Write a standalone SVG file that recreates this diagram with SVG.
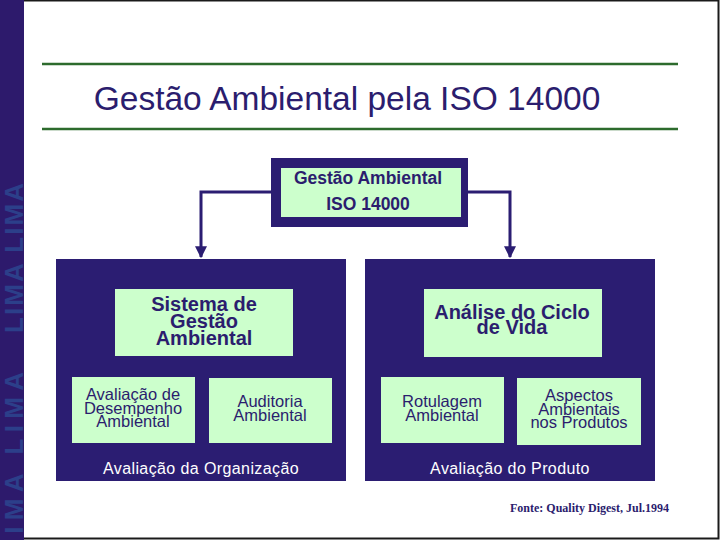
<svg xmlns="http://www.w3.org/2000/svg" width="720" height="540" viewBox="0 0 720 540">
<defs>
<style>
.navy{fill:#2b1d72}
.green{fill:#ccffcc}
.t{font-family:"Liberation Sans",Arial,sans-serif;fill:#2b1d6e;text-anchor:middle}
.b{font-weight:bold}
.cap{font-family:"Liberation Sans",Arial,sans-serif;fill:#ffffff;text-anchor:middle;font-size:16px;letter-spacing:0.4px}
.side{font-family:"Liberation Sans",Arial,sans-serif;fill:#2c3f8a;font-size:26px;font-weight:bold}
.conn{fill:none;stroke:#2b1d72;stroke-width:3}
.s16{font-size:16.5px}
.s20{font-size:20px}
</style>
<marker id="arr" viewBox="0 0 10 10" refX="9" refY="5" markerWidth="4" markerHeight="4" orient="auto" markerUnits="strokeWidth">
<path d="M0,0 L10,5 L0,10 z" fill="#2b1d72"/>
</marker>
</defs>
<rect x="0" y="0" width="720" height="540" fill="#ffffff"/>
<rect x="0.5" y="0.5" width="718" height="538" fill="none" stroke="#1a1a1a" stroke-width="2"/>
<g id="sidebar">
<rect x="0" y="0" width="24" height="540" fill="#2d1a6c"/>
<text class="side" transform="translate(23,333) rotate(-90)" textLength="150" lengthAdjust="spacing">LIMA LIMA</text>
<text class="side" transform="translate(23,556) rotate(-90)" textLength="184" lengthAdjust="spacing">LIMA LIMA</text>
</g>
<g id="title">
<line x1="42" y1="64" x2="678" y2="64" stroke="#2d6b2d" stroke-width="2.5"/>
<line x1="42" y1="129" x2="678" y2="129" stroke="#2d6b2d" stroke-width="2.5"/>
<text class="t" x="347" y="110" style="font-size:33.5px">Gestão Ambiental pela ISO 14000</text>
</g>
<g id="connectors">
<path class="conn" d="M272,192 H201 V257" marker-end="url(#arr)"/>
<path class="conn" d="M467,192 H510 V257" marker-end="url(#arr)"/>
</g>
<g id="root">
<rect class="navy" x="271" y="158" width="197" height="69"/>
<rect class="green" x="281" y="168" width="180" height="49"/>
<text class="t b" x="368" y="184" style="font-size:17.5px">Gestão Ambiental</text>
<text class="t b" x="368" y="210" style="font-size:17.5px">ISO 14000</text>
</g>
<g id="org">
<rect class="navy" x="56" y="259" width="290" height="222"/>
<text class="cap" x="201" y="474">Avaliação da Organização</text>
</g>
<g id="sga">
<rect class="green" x="115" y="289" width="178" height="67"/>
<text class="t b s20" x="204" y="311">Sistema de</text>
<text class="t b s20" x="204" y="328">Gestão</text>
<text class="t b s20" x="204" y="345">Ambiental</text>
</g>
<g id="ade">
<rect class="green" x="72" y="377" width="123" height="66"/>
<text class="t s16" x="133" y="400">Avaliação de</text>
<text class="t s16" x="133" y="413.5">Desempenho</text>
<text class="t s16" x="133" y="427">Ambiental</text>
</g>
<g id="auditoria">
<rect class="green" x="209" y="378" width="123" height="65"/>
<text class="t s16" x="270" y="407">Auditoria</text>
<text class="t s16" x="270" y="421">Ambiental</text>
</g>
<g id="prod">
<rect class="navy" x="365" y="259" width="290" height="222"/>
<text class="cap" x="510" y="474">Avaliação do Produto</text>
</g>
<g id="acv">
<rect class="green" x="424" y="289" width="178" height="68"/>
<text class="t b s20" x="512" y="319">Análise do Ciclo</text>
<text class="t b s20" x="512" y="334">de Vida</text>
</g>
<g id="rotulagem">
<rect class="green" x="381" y="377" width="123" height="66"/>
<text class="t s16" x="442" y="407">Rotulagem</text>
<text class="t s16" x="442" y="421">Ambiental</text>
</g>
<g id="aspectos">
<rect class="green" x="517" y="378" width="124" height="67"/>
<text class="t s16" x="579" y="401">Aspectos</text>
<text class="t s16" x="579" y="414.5">Ambientais</text>
<text class="t s16" x="579" y="428">nos Produtos</text>
</g>
<g id="fonte">
<text x="510" y="512" style="font-family:'Liberation Serif','Times New Roman',serif;font-weight:bold;font-size:12px;fill:#2b1d6e">Fonte: Quality Digest, Jul.1994</text>
</g>
</svg>
